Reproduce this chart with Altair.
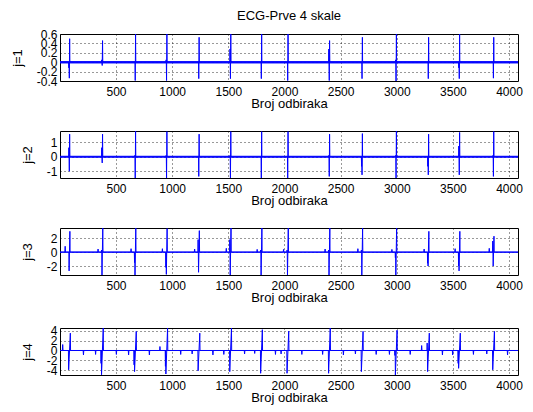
import altair as alt
import pandas as pd

# Number of samples in each decomposition level
N_SAMPLES = 4080

# Sample index of each QRS complex
beats = [85, 378, 672, 951, 1238, 1520, 1795, 2030, 2400, 2692, 2995, 3282, 3558, 3862]

# Scale j=1: positive lobe, negative lobe and side deflection at every beat
peak_j1 = [0.50, 0.46, 0.60, 0.60, 0.53, 0.60, 0.60, 0.60, 0.46, 0.53, 0.60, 0.53, 0.60, 0.53]
trough_j1 = [-0.34, -0.07, -0.39, -0.39, -0.35, -0.35, -0.35, -0.39, -0.39, -0.35, -0.40, -0.35, -0.35, -0.34]
side_j1 = [-0.12, 0.05, 0.0, 0.05, 0.0, 0.28, 0.0, 0.0, 0.28, 0.0, 0.05, 0.0, -0.12, 0.0]

# Scale j=2
peak_j2 = [1.58, 1.58, 1.80, 1.76, 1.58, 1.76, 1.76, 1.76, 1.58, 1.62, 1.80, 1.58, 1.70, 1.76]
trough_j2 = [-1.00, -0.42, -1.47, -1.47, -1.36, -1.47, -1.47, -1.47, -1.36, -1.25, -1.47, -1.25, -1.25, -1.36]
side_j2 = [0.64, 0.64, 0.10, 0.10, 0.0, 0.10, 0.0, 0.0, 0.10, -0.66, 0.10, -0.66, 0.75, 0.10]

# Scale j=3
peak_j3 = [3.00, 3.48, 3.48, 3.40, 3.10, 3.48, 3.48, 3.48, 3.48, 3.48, 3.48, 3.00, 3.00, 2.30]
trough_j3 = [-2.70, -3.29, -3.29, -3.20, -2.90, -3.29, -3.29, -3.29, -3.29, -3.29, -3.29, -2.00, -2.70, -2.00]
side_j3 = [0.0, 0.30, -1.50, -2.20, 1.80, 1.80, 0.30, 0.30, 0.30, 0.30, -0.80, -1.60, -2.00, 1.60]
p_wave_j3 = [0.85, 0.45, 0.50, 0.50, 0.45, 0.55, 0.40, 0.40, 0.45, 0.50, 0.40, 0.45, 0.50, 0.55]

# Scale j=4
peak_j4 = [3.50, 4.54, 3.86, 4.54, 3.50, 4.54, 4.20, 3.90, 4.54, 3.86, 4.10, 3.50, 3.50, 3.86]
trough_j4 = [-3.90, -4.90, -4.27, -4.75, -4.10, -4.27, -4.60, -4.60, -4.60, -4.27, -4.95, -4.27, -3.60, -3.90]
side_j4 = [0.0, -2.60, -2.90, -3.20, 0.0, 0.0, 0.0, 0.0, 0.0, 0.0, -1.00, 1.50, -2.60, 0.0]
p_wave_j4 = [1.20, -0.80, -0.90, 0.80, -0.70, -0.80, -0.60, -0.70, -0.80, -0.70, -0.80, 1.00, -0.90, -0.70]
t_wave_j4 = [-0.90, -0.80, -0.90, -0.80, -0.90, -0.70, -0.80, -0.80, -0.90, -0.80, -0.80, -0.90, -0.80, -0.90]

x_ticks = [500, 1000, 1500, 2000, 2500, 3000, 3500, 4000]
y_ticks = {
    1: [-0.4, -0.2, 0, 0.2, 0.4, 0.6],
    2: [-1, 0, 1],
    3: [-2, 0, 2],
    4: [-4, -2, 0, 2, 4],
}

BLUE = "#0000ff"
FONT = "Liberation Sans"


def trace(peaks, troughs, sides, lobe_gap, p_amp=None, p_off=0, t_amp=None, t_off=0):
    """Coefficient trace: flat baseline with the wavelet lobes at every beat."""
    pts = {1: 0.0, N_SAMPLES: 0.0}
    h = lobe_gap // 2
    for i, b in enumerate(beats):
        if p_amp is not None:
            c = b + p_off
            pts[c - 3] = 0.0
            pts[c] = p_amp[i]
            pts[c + 3] = 0.0
        pts[b - h - 6] = 0.0
        pts[b - h - 4] = sides[i]
        pts[b - h - 2] = 0.0
        pts[b - h] = troughs[i]
        pts[b + h + 1] = peaks[i]
        pts[b + h + 3] = 0.0
        if t_amp is not None:
            c = b + t_off
            pts[c - 3] = 0.0
            pts[c] = t_amp[i]
            pts[c + 3] = 0.0
    n = sorted(pts)
    return pd.DataFrame({"n": n, "v": [pts[k] for k in n]})


levels = {
    1: trace(peak_j1, trough_j1, side_j1, 2),
    2: trace(peak_j2, trough_j2, side_j2, 2),
    3: trace(peak_j3, trough_j3, side_j3, 6, p_amp=p_wave_j3, p_off=-38),
    4: trace(peak_j4, trough_j4, side_j4, 14, p_amp=p_wave_j4, p_off=-60,
             t_amp=t_wave_j4, t_off=125),
}
noise_width = {1: 2.6, 2: 2.0, 3: 1.2, 4: 1.2}


def panel(j, df, title=None):
    lo, hi = float(df["v"].min()), float(df["v"].max())
    x_enc = alt.X(
        "n:Q",
        scale=alt.Scale(domain=[1, N_SAMPLES], nice=False, zero=False),
        axis=alt.Axis(values=x_ticks, title="Broj odbiraka", format="d",
                      labelPadding=5, titlePadding=0, labelOverlap=False,
                      labelFlush=False),
    )
    y_axis = alt.Axis(values=y_ticks[j], title=f"j={j}", labelPadding=3,
                      titlePadding=12, labelOverlap=False, labelFlush=False,
                      labelExpr="'' + datum.value")
    y_scale = alt.Scale(domain=[lo, hi], nice=False, zero=False)
    band = alt.Chart(pd.DataFrame({"v": [0.0]})).mark_rule(
        color=BLUE, strokeWidth=noise_width[j], opacity=0.9
    ).encode(y=alt.Y("v:Q", scale=y_scale, axis=y_axis))
    line = alt.Chart(df).mark_line(color=BLUE, strokeWidth=1, clip=True).encode(
        x=x_enc, y=alt.Y("v:Q", scale=y_scale, axis=y_axis)
    )
    props = dict(width=458, height=47)
    if title:
        props["title"] = alt.TitleParams(title, fontSize=13, fontWeight="normal",
                                         font=FONT, color="black", anchor="middle",
                                         frame="group", offset=5)
    return alt.layer(band, line).properties(**props)


chart = (
    alt.vconcat(
        panel(1, levels[1], "ECG-Prve 4 skale"),
        panel(2, levels[2]),
        panel(3, levels[3]),
        panel(4, levels[4]),
        spacing=19,
    )
    .properties(padding={"left": 10, "top": 9, "right": 5, "bottom": 2},
                background="white")
    .configure_view(stroke="black", strokeWidth=1)
    .configure_axis(
        labelFont=FONT, labelFontSize=12, labelColor="black",
        titleFont=FONT, titleFontSize=13, titleFontWeight="normal", titleColor="black",
        domain=False, ticks=False,
        grid=True, gridColor="black", gridDash=[1, 3], gridOpacity=0.8, gridWidth=1,
    )
)

chart.save("out.html", embed_options={"renderer": "svg", "actions": False})
